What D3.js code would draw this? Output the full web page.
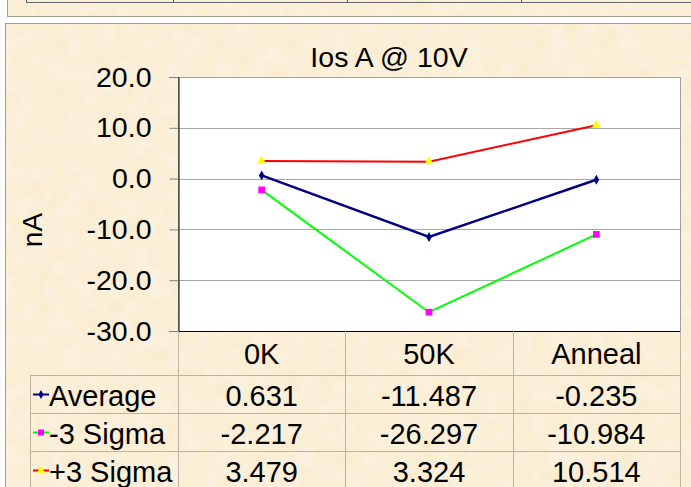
<!DOCTYPE html>
<html>
<head>
<meta charset="utf-8">
<script src="https://cdn.jsdelivr.net/npm/d3@7"></script>
<style>
	body { margin: 0; background: #ffffff; }
	svg { display: block; font-family: "Liberation Sans", Arial, sans-serif; }
</style>
</head>
<body>
<svg id="chart" width="691" height="487"></svg>
<script>
// data
var categories = ['0K', '50K', 'Anneal'];
var average = [0.631, -11.487, -0.235];
var minus3 = [-2.217, -26.297, -10.984];
var plus3 = [3.479, 3.324, 10.514];
var yTicks = [20, 10, 0, -10, -20, -30];
var seriesNames = ['Average', '-3 Sigma', '+3 Sigma'];

var series = [
	{ name: seriesNames[0], values: average, line: '#000080', marker: 'diamond', fill: '#000080', w: 2.5 },
	{ name: seriesNames[1], values: minus3, line: '#00ff00', marker: 'square', fill: '#ff00ff', w: 2 },
	{ name: seriesNames[2], values: plus3, line: '#ff0000', marker: 'triangle', fill: '#ffff00', w: 2 }
];

var svg = d3.select('svg#chart');

var plotLeft = 178, plotRight = 680, plotTop = 77, plotBottom = 331;
var rowH = 38, rowTop = 375.5;
var paper = '#faedd2';

// parchment texture
var defs = svg.append('defs');
var filt = defs.append('filter').attr('id', 'paper').attr('x', 0).attr('y', 0).attr('width', 1).attr('height', 1);
filt.append('feTurbulence')
	.attr('type', 'fractalNoise').attr('baseFrequency', 0.06).attr('numOctaves', 2).attr('seed', 3)
	.attr('result', 'noise');
filt.append('feColorMatrix')
	.attr('in', 'noise').attr('type', 'matrix')
	.attr('values', '0 0 0 0 1  0 0 0 0 1  0 0 0 0 1  0 0 0 0.5 -0.15')
	.attr('result', 'spots');
filt.append('feComposite').attr('in', 'spots').attr('in2', 'SourceGraphic').attr('operator', 'atop');

function panel(x, y, w, h) {
	svg.append('rect')
		.attr('x', x).attr('y', y).attr('width', w).attr('height', h)
		.style('fill', paper);
	svg.append('rect')
		.attr('x', x).attr('y', y).attr('width', w).attr('height', h)
		.style('fill', paper).attr('filter', 'url(#paper)');
	svg.append('rect')
		.attr('x', x).attr('y', y).attr('width', w).attr('height', h)
		.style('fill', 'none').style('stroke', '#a39c8e');
}

panel(7.5, -10, 700, 26.5);
panel(5.5, 23.5, 700, 480);

// bit of the table above
var topCols = [26.5, 173.5, 347.5, 521.5];
topCols.forEach(function (x) {
	svg.append('line')
		.attr('x1', x).attr('x2', x).attr('y1', 0).attr('y2', 2.5)
		.style('stroke', '#555');
});
svg.append('line')
	.attr('x1', 26).attr('x2', 691).attr('y1', 2.5).attr('y2', 2.5)
	.style('stroke', '#666');

// scales
var xScale = d3.scaleBand().domain(categories).range([plotLeft, plotRight]);
var yScale = d3.scaleLinear().domain([-30, 20]).range([plotBottom, plotTop]);
function cx(i) { return xScale(categories[i]) + xScale.bandwidth() / 2; }

// plot area
svg.append('rect')
	.attr('x', plotLeft + 0.5).attr('y', plotTop + 0.5)
	.attr('width', plotRight - plotLeft).attr('height', plotBottom - plotTop)
	.style('fill', '#ffffff').style('stroke', '#a0a0a0');

svg.append('g')
	.selectAll('line')
	.data(yTicks.filter(function (d) { return d > -30 && d < 20; }))
	.enter()
	.append('line')
	.attr('x1', plotLeft).attr('x2', plotRight)
	.attr('y1', function (d) { return Math.round(yScale(d)) + 0.5; })
	.attr('y2', function (d) { return Math.round(yScale(d)) + 0.5; })
	.style('stroke', '#a8a8a8');

var yAxis = d3.axisLeft(yScale)
	.tickValues(yTicks)
	.tickSize(9)
	.tickPadding(18)
	.tickFormat(function (d) { return d3.format('.1f')(d).replace('\u2212', '-'); });

var yG = svg.append('g')
	.attr('transform', 'translate(' + (plotLeft + 0.5) + ',0)')
	.call(yAxis);
yG.select('.domain').style('stroke', '#000');
yG.selectAll('.tick line').style('stroke', '#808080');
yG.selectAll('.tick text')
	.style('font-size', '28.5px')
	.style('fill', '#000');

svg.append('line')
	.attr('x1', plotLeft).attr('x2', plotRight + 1)
	.attr('y1', plotBottom + 0.5).attr('y2', plotBottom + 0.5)
	.style('stroke', '#000');

// title and axis label
svg.append('text')
	.attr('x', 389).attr('y', 67)
	.attr('text-anchor', 'middle')
	.style('font-size', '28.5px')
	.text('Ios A @ 10V');

svg.append('text')
	.attr('transform', 'translate(42,230) rotate(-90)')
	.attr('text-anchor', 'middle')
	.style('font-size', '28px')
	.text('nA');

// lines
var line = d3.line()
	.x(function (d, i) { return cx(i); })
	.y(function (d) { return yScale(d); });

var symbols = { diamond: d3.symbolDiamond, square: d3.symbolSquare, triangle: d3.symbolTriangle };
var sizes = { diamond: 28, square: 45, triangle: 36 };

var groups = svg.selectAll('g.series')
	.data(series)
	.enter()
	.append('g')
	.attr('class', 'series');

groups.append('path')
	.attr('d', function (d) { return line(d.values); })
	.style('fill', 'none')
	.style('stroke', function (d) { return d.line; })
	.style('stroke-width', function (d) { return d.w; });

groups.selectAll('path.marker')
	.data(function (d) { return d.values.map(function (v) { return { v: v, s: d }; }); })
	.enter()
	.append('path')
	.attr('class', 'marker')
	.attr('transform', function (d, i) {
		return 'translate(' + cx(i) + ',' + yScale(d.v) + ')';
	})
	.attr('d', function (d) { return d3.symbol().type(symbols[d.s.marker]).size(sizes[d.s.marker])(); })
	.style('fill', function (d) { return d.s.fill; });

// data table
var tableLeft = 30, tableBottom = 492;
var grid = svg.append('g').style('stroke', '#bdb3a0').style('stroke-width', 1);

categories.map(function (c) { return xScale(c); }).concat([plotRight]).forEach(function (x) {
	grid.append('line')
		.attr('x1', Math.round(x) + 0.5).attr('x2', Math.round(x) + 0.5)
		.attr('y1', plotBottom).attr('y2', tableBottom);
});
grid.append('line')
	.attr('x1', tableLeft + 0.5).attr('x2', tableLeft + 0.5)
	.attr('y1', rowTop).attr('y2', tableBottom);

[0, 1, 2].forEach(function (i) {
	grid.append('line')
		.attr('x1', tableLeft).attr('x2', plotRight + 1)
		.attr('y1', rowTop + i * rowH)
		.attr('y2', rowTop + i * rowH);
});

svg.selectAll('text.cat')
	.data(categories)
	.enter()
	.append('text')
	.attr('class', 'cat')
	.attr('x', function (d, i) { return cx(i); })
	.attr('y', 364)
	.attr('text-anchor', 'middle')
	.style('font-size', '29px')
	.text(function (d) { return d; });

var rows = svg.selectAll('g.row')
	.data(series)
	.enter()
	.append('g')
	.attr('class', 'row')
	.attr('transform', function (d, i) { return 'translate(0,' + (rowTop + i * rowH + rowH / 2) + ')'; });

rows.append('line')
	.attr('x1', 33).attr('x2', 49)
	.attr('y1', 0).attr('y2', 0)
	.style('stroke', function (d) { return d.line; })
	.style('stroke-width', 2);

rows.append('path')
	.attr('transform', 'translate(41,0)')
	.attr('d', function (d) { return d3.symbol().type(symbols[d.marker]).size(sizes[d.marker] * 0.8)(); })
	.style('fill', function (d) { return d.fill; });

rows.append('text')
	.attr('x', 49).attr('y', 11)
	.style('font-size', '29px')
	.text(function (d) { return d.name; });

rows.selectAll('text.val')
	.data(function (d) { return d.values; })
	.enter()
	.append('text')
	.attr('class', 'val')
	.attr('x', function (d, i) { return cx(i); })
	.attr('y', 11)
	.attr('text-anchor', 'middle')
	.style('font-size', '29px')
	.text(function (d) { return d3.format('.3f')(d).replace('\u2212', '-'); });
</script>
</body>
</html>
